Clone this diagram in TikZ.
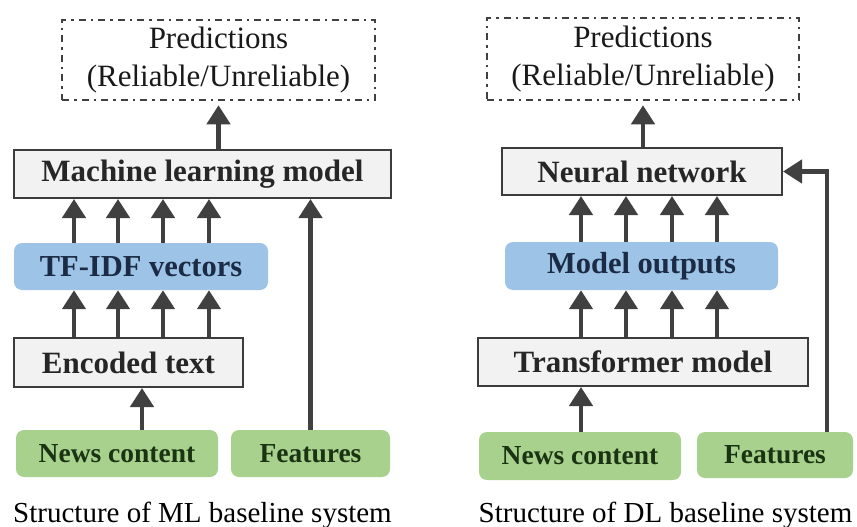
\documentclass[tikz,border=0pt]{standalone}
\usepackage{fontspec}
\setmainfont{Liberation Serif}
\usetikzlibrary{arrows.meta}
\definecolor{boxgray}{HTML}{F2F2F2}
\definecolor{edgegray}{HTML}{3C3C3C}
\definecolor{arrgray}{HTML}{404040}
\definecolor{boxblue}{HTML}{9DC3E6}
\definecolor{boxgreen}{HTML}{A9D18E}
\definecolor{txtblue}{HTML}{1C2B45}
\definecolor{txtgreen}{HTML}{1A3312}
\definecolor{dashgray}{HTML}{404040}
\begin{document}
\begin{tikzpicture}[x=1pt,y=-1pt,
  predbox/.style={draw=dashgray, line width=2.5pt, dash pattern=on 7pt off 5pt on 2.5pt off 5pt,
    inner sep=0pt, align=center, font=\fontsize{31}{38}\selectfont, text=black!90},
  graybox/.style={draw=edgegray, fill=boxgray, line width=2pt, inner sep=0pt,
    font=\fontsize{31}{36}\selectfont\bfseries, text=black!85},
  bluebox/.style={fill=boxblue, rounded corners=8pt, inner sep=0pt,
    font=\fontsize{30.5}{36}\selectfont\bfseries, text=txtblue},
  greenbox/.style={fill=boxgreen, rounded corners=8pt, inner sep=0pt,
    font=\fontsize{27.5}{32}\selectfont\bfseries, text=txtgreen},
  arr/.style={draw=arrgray, line width=4.5pt, -{Triangle[length=19pt,width=23pt]}},
  captionstyle/.style={font=\fontsize{29}{34}\selectfont, text=black, anchor=base, inner sep=0pt}]
\useasboundingbox (0,0) rectangle (857,527);

% ---------- Left panel (ML) ----------
\node[predbox, minimum width=313pt, minimum height=80pt] (predL) at (218.5,60)
  {Predictions\\(Reliable/Unreliable)};
\node[graybox, minimum width=377pt, minimum height=48pt] (ml) at (202.5,174) {Machine learning model};
\node[bluebox, minimum width=254pt, minimum height=47pt] (tfidf) at (141,266.5) {TF-IDF vectors};
\node[graybox, minimum width=229pt, minimum height=49pt] (enc) at (128.5,362.5) {Encoded text};
\node[greenbox, minimum width=202pt, minimum height=47pt] (newsL) at (117,453.5) {News content};
\node[greenbox, minimum width=159pt, minimum height=47pt] (featL) at (310.5,453.5) {Features};
\node[captionstyle] (capL) at (202.5,522) {Structure of ML baseline system};

\coordinate (la) at (74,0);
\coordinate (lb) at (118,0);
\coordinate (lc) at (163,0);
\coordinate (ld) at (209,0);
\coordinate (le) at (142,0);

\draw[arr, shorten >=4pt] (predL.south |- ml.north) -- (predL.south);
\foreach \c in {la,lb,lc,ld}{
  \draw[arr] (\c |- tfidf.north) -- (\c |- ml.south);
  \draw[arr] (\c |- enc.north) -- (\c |- tfidf.south);
}
\draw[arr] (le |- newsL.north) -- (le |- enc.south);
\draw[arr] (featL.north) -- (featL.north |- ml.south);

% ---------- Right panel (DL) ----------
\node[predbox, minimum width=312pt, minimum height=82pt] (predR) at (643,59)
  {Predictions\\(Reliable/Unreliable)};
\node[graybox, minimum width=280pt, minimum height=47pt] (nn) at (642,171.5) {Neural network};
\node[bluebox, minimum width=273pt, minimum height=48pt] (mo) at (641.5,266) {Model outputs};
\node[graybox, minimum width=330pt, minimum height=48pt] (tr) at (643,362) {Transformer model};
\node[greenbox, minimum width=202pt, minimum height=48pt] (newsR) at (580,456) {News content};
\node[greenbox, minimum width=156pt, minimum height=46pt] (featR) at (775,455) {Features};
\node[captionstyle] (capR) at (665.5,522) {Structure of DL baseline system};

\coordinate (ra) at (581,0);
\coordinate (rb) at (626,0);
\coordinate (rc) at (672,0);
\coordinate (rd) at (717,0);
\coordinate (fbend) at (827,171.5);

\draw[arr, shorten >=4pt] (predR.south |- nn.north) -- (predR.south);
\foreach \c in {ra,rb,rc,rd}{
  \draw[arr] (\c |- mo.north) -- (\c |- nn.south);
  \draw[arr] (\c |- tr.north) -- (\c |- mo.south);
}
\draw[arr] (ra |- newsR.north) -- (ra |- tr.south);
\draw[arr] (fbend |- featR.north) -- (fbend |- nn.east) -- (nn.east);
\end{tikzpicture}
\end{document}
